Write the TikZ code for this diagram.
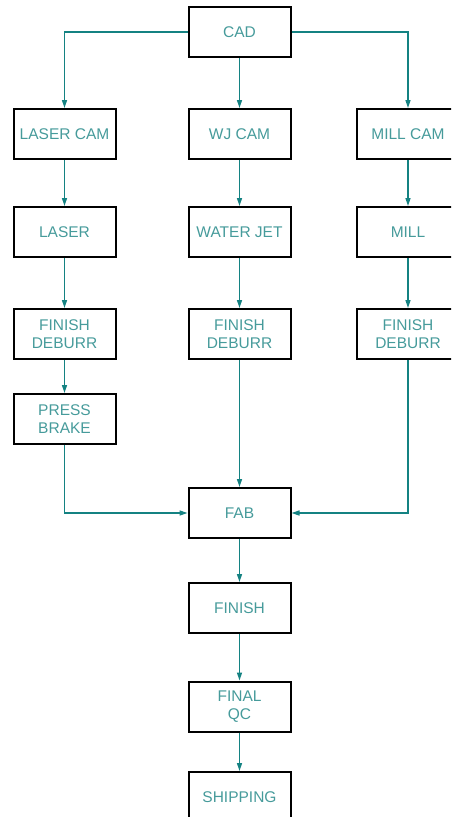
\documentclass[tikz,border=0pt]{standalone}
\usepackage{fontspec}
\setmainfont{Liberation Sans}
\usetikzlibrary{arrows.meta}
\definecolor{cadteal}{RGB}{20,130,130}
\definecolor{txtteal}{RGB}{70,155,155}
\tikzset{
  box/.style={draw=black, line width=2pt, minimum width=102pt, minimum height=50pt,
    inner sep=0pt, align=center, text=txtteal, font=\fontsize{15.5}{18}\selectfont},
  conn/.style={draw=cadteal, line width=1.4pt, -{Triangle[length=8pt,width=5pt]}},
}
\begin{document}
\begin{tikzpicture}[x=1pt,y=-1pt]
\useasboundingbox (0,0) rectangle (451,817);
\clip (0,0) rectangle (451,817);
\fill[white] (0,0) rectangle (451,817);
% nodes
\node[box] (cad) at (239.5,32) {CAD};
\node[box] (lcam) at (64.5,134) {LASER CAM};
\node[box] (wcam) at (239.5,134) {WJ CAM};
\node[box] (mcam) at (408,134) {MILL CAM};
\node[box] (laser) at (64.5,232) {LASER};
\node[box] (wj) at (239.5,232) {WATER JET};
\node[box] (mill) at (408,232) {MILL};
\node[box] (lfd) at (64.5,334) {FINISH\\DEBURR};
\node[box] (wfd) at (239.5,334) {FINISH\\DEBURR};
\node[box] (mfd) at (408,334) {FINISH\\DEBURR};
\node[box, align=left] (press) at (64.5,419) {PRESS\\BRAKE};
\node[box] (fab) at (239.5,513) {FAB};
\node[box] (finish) at (239.5,608) {FINISH};
\node[box] (qc) at (239.5,706.5) {FINAL\\QC};
\node[box] (ship) at (239.5,797) {SHIPPING};
% connectors
\draw[conn] (cad.west) -| (lcam.north);
\draw[conn] (cad.south) -- (wcam.north);
\draw[conn] (cad.east) -| (mcam.north);
\draw[conn] (lcam) -- (laser);
\draw[conn] (wcam) -- (wj);
\draw[conn] (mcam) -- (mill);
\draw[conn] (laser) -- (lfd);
\draw[conn] (wj) -- (wfd);
\draw[conn] (mill) -- (mfd);
\draw[conn] (lfd) -- (press);
\draw[conn] (press.south) |- (fab.west);
\draw[conn] (wfd) -- (fab);
\draw[conn] (mfd.south) |- (fab.east);
\draw[conn] (fab) -- (finish);
\draw[conn] (finish) -- (qc);
\draw[conn] (qc) -- (ship);
\end{tikzpicture}
\end{document}
